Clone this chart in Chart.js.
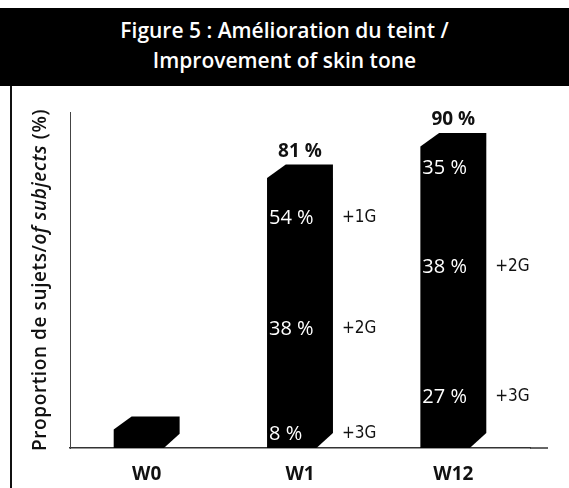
<!DOCTYPE html>
<html>
<head>
<meta charset="utf-8">
<script src="https://cdn.jsdelivr.net/npm/chart.js@4.4.1/dist/chart.umd.min.js"></script>
<style>
  html, body { margin: 0; padding: 0; background: #fff; }
  #wrap { position: relative; width: 569px; height: 488px; overflow: hidden; }
  #wrap canvas { position: absolute; left: 0; top: 0; }
  #head {
    position: absolute; left: 0; top: 8px; width: 569px; height: 78px;
    box-sizing: border-box; padding-top: 7px;
    background: #000; color: #fff; text-align: center;
    font-family: 'Open Sans', sans-serif; font-weight: 600; font-size: 21px;
    line-height: 30px;
  }
  #frame { position: absolute; left: 10px; top: 86px; width: 2px; height: 402px; background: #111; }
</style>
</head>
<body>
<div id="wrap">
  <canvas id="chart" width="569" height="488"></canvas>
  <div id="head">Figure 5 : Amélioration du teint /<br>Improvement of skin tone</div>
  <div id="frame"></div>
</div>
<script>
const categories = ['W0', 'W1', 'W12'];
const improved = [9, 81, 90];          // % of subjects improved (W0 has no value printed)
const share1G = [null, 54, 35];
const share2G = [null, 38, 38];
const share3G = [null, 8, 27];
const gradeTags = [[], ['+1G', '+2G', '+3G'], ['', '+2G', '+3G']];

// bar with cut top-left and bottom-right corners
class BevelBar extends Chart.BarElement {
  draw(ctx) {
    const { x, y, base, width } = this.getProps(['x', 'y', 'base', 'width']);
    const l = x - width / 2, r = x + width / 2;
    const cut = Math.min(15, (base - y) / 2.2);
    ctx.save();
    ctx.fillStyle = this.options.backgroundColor;
    ctx.beginPath();
    ctx.moveTo(l, base);
    ctx.lineTo(l, y + cut * 0.9);
    ctx.lineTo(l + cut * 1.25, y);
    ctx.lineTo(r, y);
    ctx.lineTo(r, base - cut);
    ctx.lineTo(r - cut * 1.1, base);
    ctx.closePath();
    ctx.fill();
    ctx.restore();
  }
}
BevelBar.id = 'bevelBar';
BevelBar.defaults = Chart.BarElement.defaults;
BevelBar.defaultRoutes = Chart.BarElement.defaultRoutes;

class BevelController extends Chart.BarController {}
BevelController.id = 'bevel';
BevelController.defaults = Object.assign({}, Chart.BarController.defaults, { dataElementType: 'bevelBar' });
BevelController.overrides = Chart.BarController.overrides;
Chart.register(BevelBar, BevelController);

const barLabels = {
  id: 'barLabels',
  afterDatasetsDraw(chart, args, opts) {
    const ctx = chart.ctx;
    const yScale = chart.scales.y;
    const meta = chart.getDatasetMeta(0);
    ctx.save();
    meta.data.forEach((bar, i) => {
      if (share1G[i] == null) return;
      ctx.textBaseline = 'middle';
      ctx.textAlign = 'center';
      ctx.fillStyle = '#111';
      ctx.font = 'bold 19px "Open Sans"';
      ctx.fillText(improved[i] + ' %', bar.x, bar.y - 13);

      const shares = [share1G[i], share2G[i], share3G[i]];
      shares.forEach((s, k) => {
        const py = yScale.getPixelForValue(opts.levels[i][k]);
        ctx.textAlign = 'left';
        ctx.fillStyle = '#fff';
        ctx.font = '20px "Open Sans"';
        ctx.fillText(s + ' %', bar.x - bar.width / 2 + 2, py);
        ctx.fillStyle = '#111';
        ctx.font = '17px "Liberation Sans Narrow", "DejaVu Sans Condensed", sans-serif';
        ctx.fillText(gradeTags[i][k], bar.x + bar.width / 2 + 9, py);
      });
    });
    ctx.restore();
  }
};

const axisDecor = {
  id: 'axisDecor',
  afterDraw(chart) {
    const ctx = chart.ctx;
    const a = chart.chartArea;
    ctx.save();
    // baseline runs a bit past the last bar
    ctx.strokeStyle = '#333';
    ctx.lineWidth = 1.5;
    ctx.beginPath();
    ctx.moveTo(a.right, a.bottom);
    ctx.lineTo(a.right + 18, a.bottom);
    ctx.stroke();

    // y title with an italic part
    const parts = [
      ['600 19px "Open Sans"', 'Proportion de sujets/'],
      ['italic 600 19px "Open Sans"', 'of subjects'],
      ['600 19px "Open Sans"', ' (%)']
    ];
    ctx.letterSpacing = '0.6px';
    let total = 0;
    parts.forEach(p => { ctx.font = p[0]; total += ctx.measureText(p[1]).width; });
    ctx.translate(41, (a.top + a.bottom) / 2);
    ctx.rotate(-Math.PI / 2);
    ctx.fillStyle = '#111';
    ctx.textBaseline = 'middle';
    ctx.textAlign = 'left';
    let px = -total / 2;
    parts.forEach(p => {
      ctx.font = p[0];
      ctx.fillText(p[1], px, 0);
      px += ctx.measureText(p[1]).width;
    });
    ctx.restore();
  }
};

Chart.defaults.font.family = '"Open Sans", sans-serif';

new Chart(document.getElementById('chart'), {
  type: 'bevel',
  data: {
    labels: categories,
    datasets: [{
      data: improved,
      backgroundColor: '#000',
      categoryPercentage: 1,
      barPercentage: 0.43
    }]
  },
  options: {
    responsive: false,
    animation: false,
    layout: { padding: { left: 70, right: 39, top: 112, bottom: 0 } },
    plugins: {
      legend: { display: false },
      tooltip: { enabled: false },
      barLabels: { levels: [[], [65.7, 34, 4], [80, 51.7, 14.6]] }
    },
    scales: {
      x: {
        grid: { display: false },
        border: { display: true, color: '#333', width: 1.5 },
        ticks: { color: '#111', padding: 7, font: { size: 19, weight: 'bold' } },
        afterFit: s => { s.height = 40; }
      },
      y: {
        min: 0,
        max: 96,
        grid: { display: false },
        border: { display: true, color: '#444', width: 1 },
        ticks: { display: false },
        afterFit: s => { s.width = 0; }
      }
    }
  },
  plugins: [barLabels, axisDecor]
});
</script>
</body>
</html>
